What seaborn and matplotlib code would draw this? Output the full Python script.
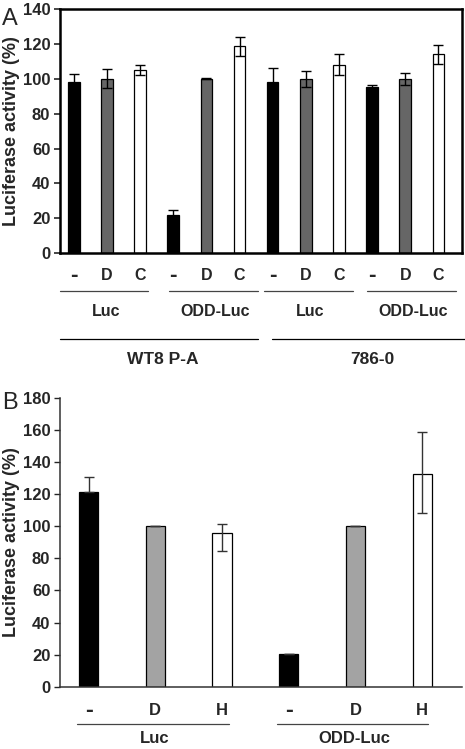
import numpy as np
import pandas as pd
import matplotlib
matplotlib.use("Agg")
import matplotlib.pyplot as plt
import seaborn as sns

# ---------------- data ----------------
# Panel A
a_treat = ["-", "D", "C"] * 4
a_construct = ["Luc", "ODD-Luc", "Luc", "ODD-Luc"]
a_cell = ["WT8 P-A", "786-0"]
a_values = [98, 100, 105, 22, 100, 118.5, 98, 100, 108, 95.5, 100, 114]
a_err = [5, 5.5, 3, 2.5, 0.3, 5.5, 8, 4.5, 6, 0.7, 3.5, 5.5]
a_yticks = [0, 20, 40, 60, 80, 100, 120, 140]

# Panel B
b_treat = ["-", "D", "H"] * 2
b_construct = ["Luc", "ODD-Luc"]
b_values = [121.3, 100, 95.8, 20.3, 100, 132.7]
b_err_lo = [0, 0, 11.5, 0, 0, 24.5]
b_err_hi = [9.4, 0, 5.8, 0.3, 0.2, 25.8]
b_yticks = [0, 20, 40, 60, 80, 100, 120, 140, 160, 180]

# ---------------- style ----------------
sns.set_style("ticks")
plt.rcParams["font.family"] = ["Liberation Sans", "DejaVu Sans"]
plt.rcParams["font.weight"] = "bold"

fig = plt.figure(figsize=(4.65, 7.49), dpi=100)
axA = fig.add_axes([0.129, 0.662, 0.865, 0.326])
axB = fig.add_axes([0.129, 0.083, 0.865, 0.386])

TICK_FS = 12
CAT_FS = 11.5


def style_cat_labels(ax, fs):
    for lab in ax.get_xticklabels():
        if lab.get_text() == "-":
            lab.set_fontsize(fs + 5)
            lab.set_fontweight("heavy")
        else:
            lab.set_fontsize(fs)


# ---------------- panel A ----------------
dfA = pd.DataFrame({
    "bar": [f"{i}" for i in range(len(a_values))],
    "treat": a_treat,
    "value": a_values,
})
colA = {"-": "#000000", "D": "#666666", "C": "#ffffff"}
sns.barplot(data=dfA, x="bar", y="value", hue="treat", palette=colA,
            dodge=False, width=0.35, edgecolor="black", linewidth=0.9,
            legend=False, ax=axA, errorbar=None)
axA.errorbar(np.arange(len(a_values)), a_values, yerr=a_err, fmt="none",
             ecolor="black", elinewidth=1.0, capsize=3.5, capthick=1.0)
axA.set_xlim(-0.42, 11.72)
axA.set_ylim(0, 140)
axA.set_yticks(a_yticks)
axA.set_yticklabels([str(t) for t in a_yticks], fontsize=TICK_FS, fontweight="bold")
axA.set_xticks(np.arange(len(a_values)))
axA.set_xticklabels(a_treat, fontweight="bold", va="center")
style_cat_labels(axA, CAT_FS)
axA.tick_params(axis="x", length=0, pad=16)
axA.tick_params(axis="y", length=4, width=1.2, direction="out", pad=3)
axA.set_xlabel("")
axA.set_ylabel("Luciferase activity (%)", fontsize=13, fontweight="bold", labelpad=2)
for s in axA.spines.values():
    s.set_linewidth(1.8)
    s.set_color("black")

trA = axA.get_xaxis_transform()
lvl1 = [(-0.42, 2.25), (2.88, 5.56), (5.73, 8.42), (8.85, 11.52)]
for (x0, x1), name in zip(lvl1, a_construct):
    axA.plot([x0, x1], [-0.155, -0.155], color="#444444", lw=0.9, transform=trA, clip_on=False)
    axA.text((x0 + x1) / 2 + 0.05, -0.24, name, transform=trA, ha="center", va="center",
             fontsize=11.5, fontweight="bold")
lvl2 = [(-0.42, 5.56), (5.98, 11.85)]
for (x0, x1), name in zip(lvl2, a_cell):
    axA.plot([x0, x1], [-0.35, -0.35], color="black", lw=0.9, transform=trA, clip_on=False)
    axA.text((x0 + x1) / 2 + 0.1, -0.435, name, transform=trA, ha="center", va="center",
             fontsize=12.5, fontweight="bold")
fig.text(0.005, 0.975, "A", fontsize=17, fontweight="normal", ha="left", va="center")

# ---------------- panel B ----------------
dfB = pd.DataFrame({
    "bar": [f"{i}" for i in range(len(b_values))],
    "treat": b_treat,
    "value": b_values,
})
colB = {"-": "#000000", "D": "#a3a3a3", "H": "#ffffff"}
sns.barplot(data=dfB, x="bar", y="value", hue="treat", palette=colB,
            dodge=False, width=0.29, edgecolor="black", linewidth=0.9,
            legend=False, ax=axB, errorbar=None)
axB.errorbar(np.arange(len(b_values)), b_values, yerr=[b_err_lo, b_err_hi], fmt="none",
             ecolor="#333333", elinewidth=1.0, capsize=3.5, capthick=1.0)
axB.set_xlim(-0.43, 5.6)
axB.set_ylim(0, 180)
axB.set_yticks(b_yticks)
axB.set_yticklabels([str(t) for t in b_yticks], fontsize=TICK_FS, fontweight="bold")
axB.set_xticks(np.arange(len(b_values)))
axB.set_xticklabels(b_treat, fontweight="bold", va="center")
style_cat_labels(axB, CAT_FS + 0.5)
axB.tick_params(axis="x", length=0, pad=17)
axB.tick_params(axis="y", length=4, width=1.0, direction="out", pad=3)
axB.set_xlabel("")
axB.set_ylabel("Luciferase activity (%)", fontsize=13, fontweight="bold", labelpad=2)
sns.despine(ax=axB)
for s in ["left", "bottom"]:
    axB.spines[s].set_linewidth(1.1)
    axB.spines[s].set_color("#333333")

trB = axB.get_xaxis_transform()
lvlB = [(-0.17, 2.1), (2.83, 5.09)]
for (x0, x1), name in zip(lvlB, b_construct):
    axB.plot([x0, x1], [-0.128, -0.128], color="#444444", lw=0.9, transform=trB, clip_on=False)
    axB.text((x0 + x1) / 2 + 0.03, -0.18, name, transform=trB, ha="center", va="center",
             fontsize=12, fontweight="bold")
fig.text(0.005, 0.462, "B", fontsize=17, fontweight="normal", ha="left", va="center")

fig.savefig("out.png", dpi=100)
